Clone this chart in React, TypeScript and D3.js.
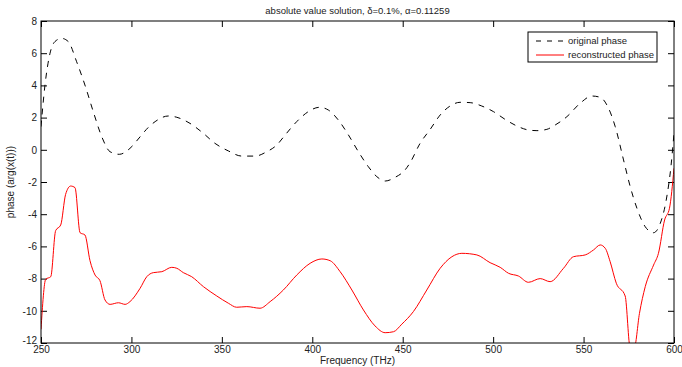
import { useEffect, useRef } from "react";
import * as d3 from "d3";

const origFreq = [250, 252.2, 255, 257.7, 261.4, 265.1, 269.7, 274.3, 278.9, 283.6, 288.2, 293.3, 299.2, 304.8, 309.4, 313.1, 320.4, 325.1, 332.4, 339.8, 346.2, 353.6, 361.0, 368.4, 374.8, 380.4, 385, 391.4, 397.8, 403.9, 408.9, 414.4, 420, 425.5, 431, 435.7, 440.3, 445.8, 451.3, 454.1, 459.6, 465.2, 470.7, 476.2, 481.7, 487.3, 493.7, 500.2, 506.6, 513.1, 519.5, 524.2, 529.7, 533.4, 540.8, 548.1, 554.6, 559.2, 563.8, 567.5, 572.1, 575.8, 579.5, 584.1, 588.7, 592.4, 595.7, 598.3, 600];
const origPhase = [1.44, 4.02, 6.0, 6.72, 6.92, 6.72, 5.47, 4.02, 2.37, 0.81, -0.12, -0.28, 0.09, 0.81, 1.4, 1.75, 2.1, 2.02, 1.64, 1.02, 0.4, -0.07, -0.39, -0.39, -0.12, 0.3, 0.92, 1.75, 2.37, 2.64, 2.47, 1.85, 0.92, -0.12, -1.05, -1.67, -1.94, -1.71, -1.25, -0.8, 0.4, 1.27, 2.16, 2.72, 2.95, 2.93, 2.72, 2.37, 1.89, 1.48, 1.23, 1.19, 1.27, 1.48, 2.06, 2.89, 3.34, 3.26, 2.58, 1.44, -0.63, -2.29, -3.63, -4.78, -5.15, -4.57, -3.12, -1.05, 1.02];

const recFreq = [250, 252.6, 255.4, 258.1, 260.9, 263.6, 266.4, 268.8, 271.6, 274.3, 277.1, 279.9, 282.6, 285.4, 288.2, 292.8, 296.5, 299.2, 304.8, 308.5, 312.1, 316.8, 322.3, 325.1, 328.7, 333.3, 339.8, 347.2, 353.6, 358.2, 363.8, 371.1, 376.7, 384, 391.4, 398.8, 405.3, 409.9, 415.4, 421.9, 428.3, 434.7, 440.3, 444.9, 449.5, 455.9, 463.3, 470.7, 477.2, 482.7, 491, 498.3, 503.9, 508.5, 514, 519.5, 526, 531.5, 538.9, 544.4, 550.9, 555.5, 559.2, 562, 564.7, 568.1, 573, 575.8, 578, 580.9, 584.1, 588.7, 591.4, 594.8, 597.5, 600];
const recPhase = [-11.15, -8.04, -7.88, -5.02, -4.67, -2.77, -2.25, -2.35, -5.15, -5.29, -6.89, -7.78, -8.13, -9.33, -9.6, -9.5, -9.6, -9.43, -8.6, -7.88, -7.63, -7.57, -7.3, -7.36, -7.63, -7.88, -8.5, -9.08, -9.53, -9.78, -9.74, -9.84, -9.43, -8.71, -7.78, -7.05, -6.78, -6.89, -7.57, -8.71, -9.95, -10.94, -11.36, -11.3, -10.83, -10.05, -8.71, -7.36, -6.64, -6.43, -6.53, -7.01, -7.3, -7.67, -7.84, -8.23, -8.0, -8.19, -7.36, -6.64, -6.53, -6.22, -5.91, -6.12, -6.95, -8.29, -9.08, -12.3, -12.3, -10.16, -8.5, -7.16, -6.43, -4.36, -3.63, -1.15];

const xTicks = [250, 300, 350, 400, 450, 500, 550, 600];
const yTicks = [-12, -10, -8, -6, -4, -2, 0, 2, 4, 6, 8];
const seriesNames = ["original phase", "reconstructed phase"];

const width = 682;
const height = 367;
const margin = { top: 21, right: 8, bottom: 24, left: 41 };
const font = "'Liberation Sans', Arial, sans-serif";

export default function App() {
  const svgRef = useRef<SVGSVGElement>(null);

  useEffect(() => {
    const svg = d3.select(svgRef.current);
    svg.selectAll("*").remove();

    const w = width - margin.left - margin.right;
    const h = height - margin.top - margin.bottom;

    const x = d3.scaleLinear().domain([250, 600]).range([0, w]);
    const y = d3.scaleLinear().domain([-12, 8]).range([h, 0]);

    const g = svg.append("g").attr("transform", `translate(${margin.left},${margin.top})`);

    g.append("clipPath").attr("id", "plotclip")
      .append("rect").attr("width", w).attr("height", h);

    const tick = 6;
    const styleAxis = (sel: any) => {
      sel.select(".domain").remove();
      sel.selectAll("line").attr("stroke", "#000");
      sel.selectAll("text").attr("font-family", font).attr("font-size", 10).attr("fill", "#222");
    };

    // bottom & top ticks (inside)
    g.append("g").attr("transform", `translate(0,${h})`)
      .call(d3.axisBottom(x).tickValues(xTicks).tickSizeInner(-tick).tickSizeOuter(0).tickPadding(3).tickFormat(d3.format("d")))
      .call(styleAxis);
    g.append("g")
      .call(d3.axisTop(x).tickValues(xTicks).tickSizeInner(-tick).tickSizeOuter(0).tickFormat(() => ""))
      .call(styleAxis);

    // left & right ticks
    const yAxisG = g.append("g")
      .call(d3.axisLeft(y).tickValues(yTicks).tickSizeInner(-tick).tickSizeOuter(0).tickPadding(4).tickFormat((d: any) => String(d)))
      .call(styleAxis);
    // nudge the lowest label up so it clears the first x label
    yAxisG.selectAll(".tick text").filter((d: any) => d === -12).attr("dy", "0.05em");
    g.append("g").attr("transform", `translate(${w},0)`)
      .call(d3.axisRight(y).tickValues(yTicks).tickSizeInner(-tick).tickSizeOuter(0).tickFormat(() => ""))
      .call(styleAxis);

    const line = d3.line<[number, number]>()
      .x((d) => x(d[0]))
      .y((d) => y(d[1]))
      .curve(d3.curveMonotoneX);

    const orig = origFreq.map((f, i) => [f, origPhase[i]] as [number, number]);
    const rec = recFreq.map((f, i) => [f, recPhase[i]] as [number, number]);

    const plot = g.append("g").attr("clip-path", "url(#plotclip)");
    plot.append("path").datum(orig)
      .attr("fill", "none").attr("stroke", "#000").attr("stroke-width", 1)
      .attr("stroke-dasharray", "6,6").attr("d", line);
    plot.append("path").datum(rec)
      .attr("fill", "none").attr("stroke", "#ff0000").attr("stroke-width", 1)
      .attr("d", line);

    // frame
    g.append("rect").attr("width", w).attr("height", h)
      .attr("fill", "none").attr("stroke", "#000").attr("stroke-width", 1);

    // legend
    const lg = g.append("g").attr("transform", `translate(${528 - margin.left},${32 - margin.top})`);
    lg.append("rect").attr("width", 129).attr("height", 30)
      .attr("fill", "#fff").attr("stroke", "#000").attr("stroke-width", 1);
    const rows = [
      { name: seriesNames[0], color: "#000", dash: "5,6" },
      { name: seriesNames[1], color: "#ff0000", dash: null },
    ];
    rows.forEach((r, i) => {
      const yy = 9 + i * 14;
      lg.append("line").attr("x1", 8).attr("x2", 36).attr("y1", yy).attr("y2", yy)
        .attr("stroke", r.color).attr("stroke-width", 1)
        .attr("stroke-dasharray", r.dash);
      lg.append("text").attr("x", 40).attr("y", yy).attr("dy", "0.35em")
        .attr("font-family", font).attr("font-size", 9.5).attr("fill", "#222").text(r.name);
    });

    // title and axis labels
    svg.append("text").attr("x", margin.left + w / 2).attr("y", 14)
      .attr("text-anchor", "middle").attr("font-family", font).attr("font-size", 9.5).attr("fill", "#222")
      .text("absolute value solution, δ=0.1%, α=0.11259");
    svg.append("text").attr("x", margin.left + w / 2).attr("y", 364)
      .attr("text-anchor", "middle").attr("font-family", font).attr("font-size", 10).attr("fill", "#222")
      .text("Frequency (THz)");
    svg.append("text")
      .attr("transform", `translate(14,${margin.top + h / 2}) rotate(-90)`)
      .attr("text-anchor", "middle").attr("font-family", font).attr("font-size", 10).attr("fill", "#222")
      .text("phase (arg(x(t)))");
  }, []);

  return (
    <svg ref={svgRef} width={width} height={height}
      style={{ position: "absolute", left: 0, top: 0, background: "#fff" }} />
  );
}
